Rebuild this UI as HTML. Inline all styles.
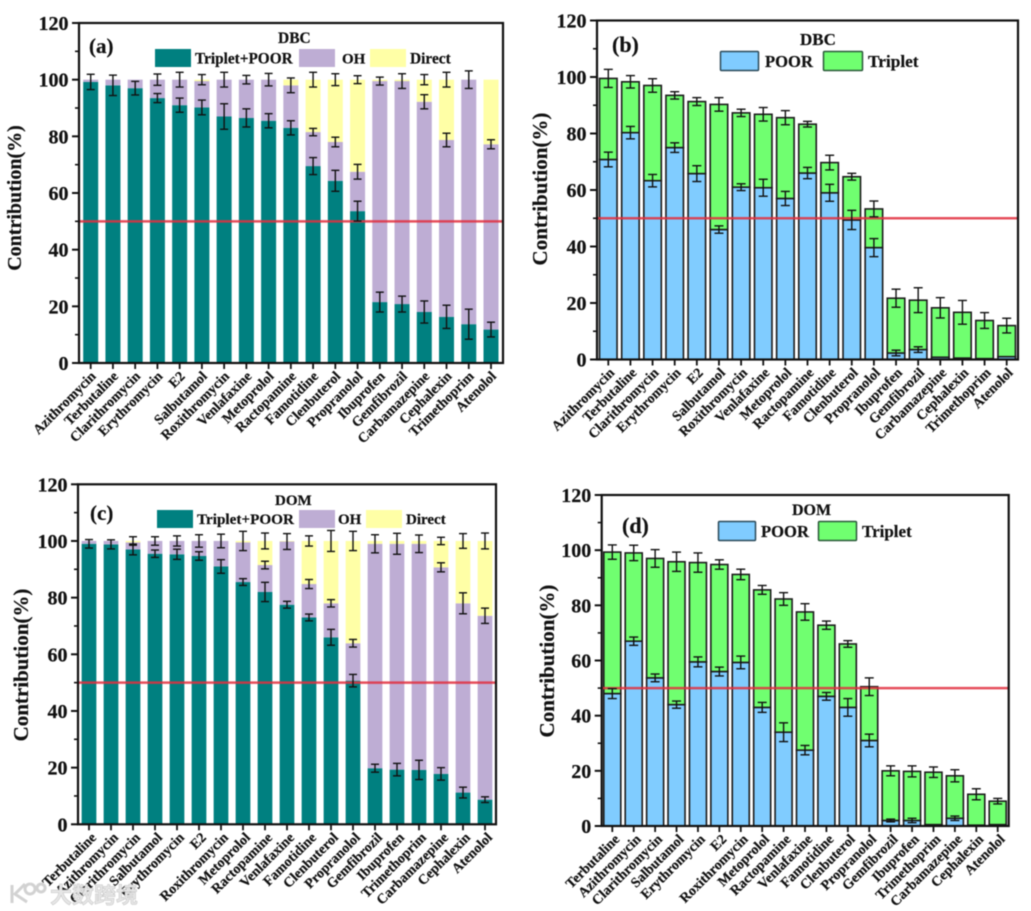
<!DOCTYPE html>
<html lang="en">
<head>
<meta charset="utf-8">
<title>Contribution charts</title>
<style>
html,body{margin:0;padding:0;background:#fff;}
#figure{display:block;filter:blur(0.45px);font-family:"Liberation Serif","Noto Serif CJK SC",serif;font-weight:bold;fill:#111;}
#figure text{stroke:#111;stroke-width:0.2px;}
#figure #watermark text{stroke:#c4c4c4;stroke-width:0.5px;}
</style>
</head>
<body>
<svg id="figure" xmlns="http://www.w3.org/2000/svg" width="1031" height="911" viewBox="0 0 1031 911">
  <rect x="0" y="0" width="1031" height="911" fill="#ffffff"/>
  <g id="panels"></g>

  <g>
    <text x="89" y="53" font-size="21">(a)</text>
    <text x="278" y="43" font-size="15.5">DBC</text>
    <g><rect x="155" y="49" width="36" height="18" fill="#008080"/><text x="195" y="63.5" font-size="15.3">Triplet+POOR</text></g>
    <g><rect x="299" y="49" width="36" height="18" fill="#BEADD4"/><text x="342" y="63.5" font-size="15">OH</text></g>
    <g><rect x="370" y="49" width="36" height="18" fill="#FFFFA6"/><text x="410" y="63.5" font-size="15.4">Direct</text></g>
  </g>

  <g>
    <text x="612" y="52" font-size="22">(b)</text>
    <text x="800" y="45" font-size="17">DBC</text>
    <g><rect x="720.5" y="51.5" width="38" height="19" rx="1" fill="#80CCFF" stroke="#2b4a5a" stroke-width="1.5"/><text x="765" y="67" font-size="16.6">POOR</text></g>
    <g><rect x="823.5" y="51.5" width="39" height="19" rx="1" fill="#70FF70" stroke="#2b5a3a" stroke-width="1.5"/><text x="868" y="67" font-size="17.3">Triplet</text></g>
  </g>

  <g>
    <text x="90" y="520" font-size="21">(c)</text>
    <text x="275" y="505" font-size="15">DOM</text>
    <g><rect x="157" y="510" width="36" height="18" fill="#008080"/><text x="197" y="524" font-size="15.2">Triplet+POOR</text></g>
    <g><rect x="299" y="510" width="36" height="18" fill="#BEADD4"/><text x="338" y="524" font-size="15">OH</text></g>
    <g><rect x="366" y="510" width="36" height="18" fill="#FFFFA6"/><text x="406" y="524" font-size="15">Direct</text></g>
  </g>

  <g>
    <text x="622" y="533" font-size="22">(d)</text>
    <text x="792" y="515" font-size="16">DOM</text>
    <g><rect x="718.5" y="521.5" width="37" height="19" rx="1" fill="#80CCFF" stroke="#2b4a5a" stroke-width="1.5"/><text x="761" y="537" font-size="16.6">POOR</text></g>
    <g><rect x="818.5" y="521.5" width="38" height="19" rx="1" fill="#70FF70" stroke="#2b5a3a" stroke-width="1.5"/><text x="862" y="537" font-size="17">Triplet</text></g>
  </g>

  <g id="watermark">
    <path d="M12 885 V903 M25 884 L15 894 L27 902 M30 884 a5 5 0 1 0 0.1 0 M41 884 a4 4 0 1 0 0.1 0" fill="none" stroke="#d2d2d2" stroke-width="3"/>
    <text x="50" y="903" font-size="22" fill="#e6e6e6" style="font-family:'Noto Sans CJK SC',sans-serif;font-weight:700">大数跨境</text>
  </g>
</svg>

<script>
// Shared tick labels
const yTickValues = [0, 20, 40, 60, 80, 100, 120];
const referenceLevel = 50;

// Panel (a) DBC
const aCategories = ["Azithromycin","Terbutaline","Clarithromycin","Erythromycin","E2","Salbutamol","Roxithromycin","Venlafaxine","Metoprolol","Ractopamine","Famotidine","Clenbuterol","Propranolol","Ibuprofen","Gemfibrozil","Carbamazepine","Cephalexin","Trimethoprim","Atenolol"];
const aTripletPoor = [99.2,98,97,93.5,91,90.2,87,86.5,85.5,83,69.5,64.3,53.6,21.5,20.8,18,16.3,13.7,11.8];
const aOH = [0.8,2,3,6.5,9,9.3,13,13.5,14.5,15,12,13.7,13.9,78,78.7,74.2,62.4,86.3,65.4];
const aDirect = [0,0,0,0,0,0.5,0,0,0,2,18.5,22,32.5,0.5,0.5,7.8,21.3,0,22.8];
const aErrTripletPoor = [2.7,3.6,2.4,1.6,2.5,2.6,4.5,3.2,2.5,2.5,3,3.7,3.5,3.5,2.8,3.9,4.1,5.3,2.6];
const aErrOH = [0,0,0,2,2.6,0,2.6,1.5,2.2,2.6,1.3,1.7,2.6,1.4,2.6,2.5,2.4,3.1,1.6];
const aErrDirect = [0,0,0,0,0,1.8,0,0,0,0,2.6,2.1,1.4,0,0,1.8,2.6,0,0];

// Panel (b) DBC
const bCategories = ["Azithromycin","Terbutaline","Clarithromycin","Erythromycin","E2","Salbutamol","Roxithromycin","Venlafaxine","Metoprolol","Ractopamine","Famotidine","Clenbuterol","Propranolol","Ibuprofen","Gemfibrozil","Carbamazepine","Cephalexin","Trimethoprim","Atenolol"];
const bPoor = [70.8,80.3,63.3,75,65.8,46,61,60.8,57,66,59,49.4,39.6,2.3,3.5,0.8,0.5,0.3,1];
const bTriplet = [28.7,18,33.7,18.5,25.5,44.3,26.3,26,28.6,17.3,10.7,15.3,13.7,19.4,17.5,17.5,16.2,13.5,11];
const bErrPoor = [2.6,2.2,2.2,1.7,2.8,1.3,1.2,3,2.5,2,3,3.4,3.2,1,1,0,0,0,0];
const bErrTriplet = [3.2,2.2,2.4,1.3,1.4,2.4,1.3,2.4,2.5,1,2.6,1.2,2.8,3.2,4.4,3.6,4.2,2.8,2.6];

// Panel (c) DOM
const cCategories = ["Terbutaline","Azithromycin","Clarithromycin","Salbutamol","Erythromycin","E2","Roxithromycin","Metoprolol","Ractopamine","Venlafaxine","Famotidine","Clenbuterol","Propranolol","Gemfibrozil","Ibuprofen","Trimethoprim","Carbamazepine","Cephalexin","Atenolol"];
const cTripletPoor = [99,98.8,97,95.5,95.3,94.7,91,85.5,82,77.5,73,66,50.7,19.8,19.3,19.2,17.8,11.2,8.7];
const cOH = [1,1.2,2.5,4.5,4.7,5.3,9,14,9.5,22.3,11.8,12,13.2,79.2,79.7,79.8,72.9,66.8,64.9];
const cDirect = [0,0,0.5,0,0,0,0,0.5,8.5,0.2,15.2,22,36.1,1,1,1,9.3,22,26.4];
const cErrTripletPoor = [1.5,1.6,1.9,1.3,1.8,1.5,2.4,1.2,3.4,1.2,1.2,2.8,2.2,1.4,2.2,3.4,2.2,1.9,1];
const cErrOH = [0,0,0,1.5,1.8,2.2,2.4,0,1.35,2.8,1.6,1.3,1.35,3.2,3.7,3.1,1.6,3.7,2.7];
const cErrDirect = [0,0,1.5,0,0,0,0,3.4,2.8,0,1.8,3.7,3.4,0,0,0,1.3,2.6,2.8];

// Panel (d) DOM
const dCategories = ["Terbutaline","Azithromycin","Clarithromycin","Salbutamol","Erythromycin","E2","Roxithromycin","Metoprolol","Ractopamine","Venlafaxine","Famotidine","Clenbuterol","Propranolol","Gemfibrozil","Ibuprofen","Trimethoprim","Carbamazepine","Cephalexin","Atenolol"];
const dPoor = [48,67,53.7,44,59.5,56,59.3,43,34,27.5,47,43,31,2,2,0.5,2.8,0.3,0.5];
const dTriplet = [51.3,32,43.3,51.8,36,38.8,31.9,42.6,48.3,50.1,25.8,23,19.5,18,17.8,19,15.4,11.2,8.5];
const dErrPoor = [1.8,1.5,1.4,1.3,1.8,1.6,2.3,1.8,3.4,1.7,1.4,3.2,2.3,0.5,0.8,0,0.8,0,0];
const dErrTriplet = [2.6,2.8,3.2,3.5,3.5,1.7,1.9,1.6,2.3,3,1.5,1.2,3.2,1.8,2,1.9,2.2,2,1];

const SVG_NS = "http://www.w3.org/2000/svg";
const root = document.getElementById("panels");

function make(parent, tag, attrs) {
  const el = document.createElementNS(SVG_NS, tag);
  for (const k in attrs) el.setAttribute(k, attrs[k]);
  parent.appendChild(el);
  return el;
}

function drawPanel(p) {
  const yOf = v => p.bottom - (v / 120) * (p.bottom - p.top);
  const step = (p.lastX - p.firstX) / (p.categories.length - 1);
  const xOf = i => p.firstX + i * step;

  const panel = make(root, "g", {});
  
  

  // stacked bars
  p.categories.forEach((cat, i) => {
    let cum = 0;
    p.series.forEach(s => {
      const v = s.values[i];
      if (v > 0) {
        const bar = make(panel, "rect", {
          x: xOf(i) - p.barWidth / 2,
          y: yOf(cum + v),
          width: p.barWidth,
          height: yOf(cum) - yOf(cum + v),
          fill: s.color
        });
        if (p.outlined) {
          bar.setAttribute("stroke", "#1c1c1c");
          bar.setAttribute("stroke-width", "1.6");
        }
        
        
      }
      cum += v;
    });
  });

  // reference line
  const ref = make(panel, "line", {
    x1: p.left, x2: p.right, y1: yOf(referenceLevel), y2: yOf(referenceLevel),
    stroke: "#e2303f", "stroke-width": 2.5, "stroke-opacity": 0.85
  });
  
  

  // error bars
  p.categories.forEach((cat, i) => {
    let cum = 0;
    p.series.forEach(s => {
      cum += s.values[i];
      const e = s.errors[i];
      if (e > 0) {
        const g = make(panel, "g", { stroke: "#111", "stroke-width": 1.4, fill: "none" });
        
        
        const x = xOf(i), hi = yOf(cum + e), lo = yOf(cum - e), c = p.capWidth / 2;
        make(g, "line", { x1: x, x2: x, y1: hi, y2: lo });
        make(g, "line", { x1: x - c, x2: x + c, y1: hi, y2: hi });
        make(g, "line", { x1: x - c, x2: x + c, y1: lo, y2: lo });
      }
    });
  });

  // frame
  const frame = make(panel, "rect", {
    x: p.left, y: p.top, width: p.right - p.left, height: p.bottom - p.top,
    fill: "none", stroke: "#111", "stroke-width": 2.2
  });
  
  

  // y axis ticks + labels
  yTickValues.forEach((t, idx) => {
    const tick = make(panel, "line", { x1: p.left - 7, x2: p.left, y1: yOf(t), y2: yOf(t), stroke: "#111", "stroke-width": 2 });
    
    
    const lab = make(panel, "text", { x: p.left - 10.5, y: yOf(t) + 7, "text-anchor": "end", "font-size": 20 });
    lab.textContent = String(t);
    
    
    if (idx < yTickValues.length - 1) {
      const mid = (t + yTickValues[idx + 1]) / 2;
      const minor = make(panel, "line", { x1: p.left - 4, x2: p.left, y1: yOf(mid), y2: yOf(mid), stroke: "#111", "stroke-width": 1.6 });
      
      
    }
  });

  // x axis ticks + labels
  p.categories.forEach((cat, i) => {
    const x = xOf(i);
    const tick = make(panel, "line", { x1: x, x2: x, y1: p.bottom, y2: p.bottom + 6, stroke: "#111", "stroke-width": 1.8 });
    
    
    const lx = x + p.labelDx, ly = p.bottom + 14;
    const lab = make(panel, "text", { x: lx, y: ly, "text-anchor": "end", "font-size": p.xFont, transform: "rotate(-45 " + lx + " " + ly + ")" });
    lab.textContent = cat;
    
    
  });

  // y axis title
  const title = make(panel, "text", {
    x: p.titleX, y: p.titleY, "text-anchor": "middle", "font-size": p.titleFont,
    transform: "rotate(-90 " + p.titleX + " " + p.titleY + ")"
  });
  title.textContent = "Contribution(%)";
  
  
}

const TEAL = "#008080", PURPLE = "#BEADD4", YELLOW = "#FFFFA6", BLUE = "#80CCFF", GREEN = "#70FF70";

drawPanel({
  id: "a", left: 79, right: 503, top: 23, bottom: 363, firstX: 90.7, lastX: 491,
  barWidth: 15, capWidth: 8, outlined: false, xFont: 14, labelDx: 6, titleX: 21, titleY: 198, titleFont: 20,
  categories: aCategories,
  series: [
    { key: "triplet-poor", color: TEAL, values: aTripletPoor, errors: aErrTripletPoor },
    { key: "oh", color: PURPLE, values: aOH, errors: aErrOH },
    { key: "direct", color: YELLOW, values: aDirect, errors: aErrDirect }
  ]
});

drawPanel({
  id: "b", left: 597, right: 1018, top: 20.5, bottom: 359.5, firstX: 608.3, lastX: 1006.7,
  barWidth: 17.5, capWidth: 9, outlined: true, xFont: 14, labelDx: 7, titleX: 547, titleY: 189, titleFont: 21,
  categories: bCategories,
  series: [
    { key: "poor", color: BLUE, values: bPoor, errors: bErrPoor },
    { key: "triplet", color: GREEN, values: bTriplet, errors: bErrTriplet }
  ]
});

drawPanel({
  id: "c", left: 78, right: 496, top: 484.3, bottom: 824.3, firstX: 89, lastX: 485,
  barWidth: 14.7, capWidth: 8, outlined: false, xFont: 14, labelDx: 8, titleX: 28, titleY: 665, titleFont: 21,
  categories: cCategories,
  series: [
    { key: "triplet-poor", color: TEAL, values: cTripletPoor, errors: cErrTripletPoor },
    { key: "oh", color: PURPLE, values: cOH, errors: cErrOH },
    { key: "direct", color: YELLOW, values: cDirect, errors: cErrDirect }
  ]
});

drawPanel({
  id: "d", left: 601.7, right: 1008.7, top: 495, bottom: 826, firstX: 612.3, lastX: 997.7,
  barWidth: 17, capWidth: 9, outlined: true, xFont: 14, labelDx: 8, titleX: 554, titleY: 661, titleFont: 21,
  categories: dCategories,
  series: [
    { key: "poor", color: BLUE, values: dPoor, errors: dErrPoor },
    { key: "triplet", color: GREEN, values: dTriplet, errors: dErrTriplet }
  ]
});
</script>
</body>
</html>
